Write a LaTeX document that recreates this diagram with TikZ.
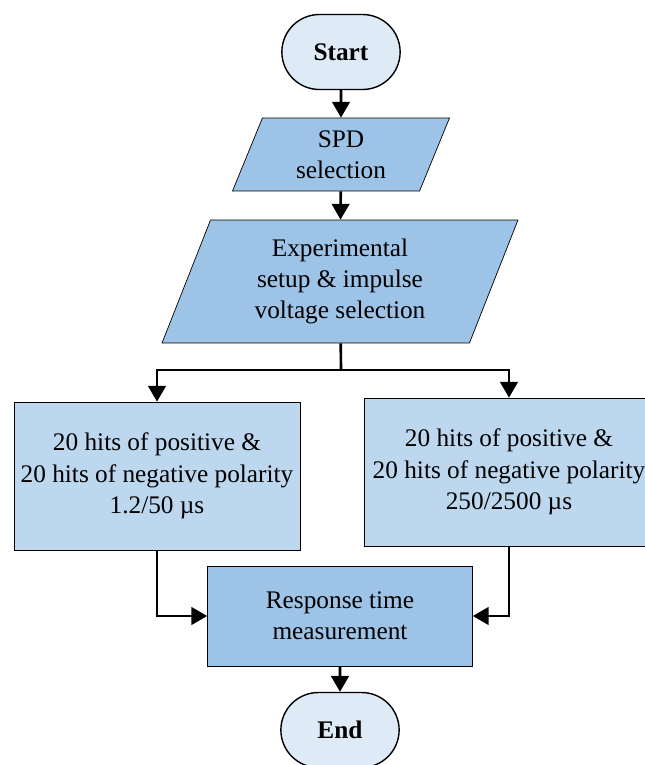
\documentclass[tikz,border=0pt]{standalone}
\usepackage{fontspec}
\setmainfont{Liberation Serif}
\usepackage{tikz}
\usetikzlibrary{shapes.geometric,shapes.misc,arrows.meta}

\definecolor{termfill}{RGB}{222,234,246}
\definecolor{darkfill}{RGB}{157,195,230}
\definecolor{lightfill}{RGB}{189,215,238}

\begin{document}
\begin{tikzpicture}[x=0.02cm, y=-0.02cm,
	every node/.style={font=\fontsize{14.4}{17.8}\selectfont, align=center},
	term/.style={shape=rounded rectangle, draw=black, thick, fill=termfill, minimum width=2.6cm, minimum height=1.5cm, font=\fontsize{14.4}{17.8}\selectfont\bfseries},
	iobox/.style={shape=trapezium, trapezium left angle=63.5, trapezium right angle=116.5, trapezium stretches body, draw=black, fill=darkfill},
	procbox/.style={shape=rectangle, draw=black, minimum width=5.3cm, minimum height=2cm, fill=darkfill},
	hitbox/.style={shape=rectangle, draw=black, minimum width=5.72cm, minimum height=2.96cm, fill=lightfill},
	arr/.style={-{Triangle[width=10pt,length=9pt]}, line width=1.5pt}]
	
	\useasboundingbox (0,0) rectangle (645,765);
	
	\node[term] (start) at (341, 52) {Start};
	\node[iobox, minimum width=4.34cm, minimum height=1.46cm] (spd) at (341, 154.5) {SPD\\selection};
	\node[iobox, minimum width=7.12cm, minimum height=2.46cm] (exp) at (340, 281.5) {Experimental\\setup \& impulse\\voltage selection};
	\coordinate (split) at (341, 370);
	\node[hitbox] (left) at (157, 476) {20 hits of positive \&\\20 hits of negative polarity\\1.2/50 µs};
	\node[hitbox, minimum width=5.8cm] (right) at (509, 472) {20 hits of positive \&\\20 hits of negative polarity\\250/2500 µs};
	\node[procbox] (resp) at (340, 616) {Response time\\measurement};
	\node[term] (end) at (340, 730) {End};
	
	\path[arr] (start) edge (spd);
	\path[arr] (spd) edge (exp);
	\draw[line width=1.5pt] (exp) -- (split);
	\draw[arr] (split) -| (left);
	\draw[arr] (split) -| (right);
	\draw[arr] (left) |- (resp);
	\draw[arr] (right) |- (resp);
	\path[arr] (resp) edge (end);
	
\end{tikzpicture}
\end{document}
